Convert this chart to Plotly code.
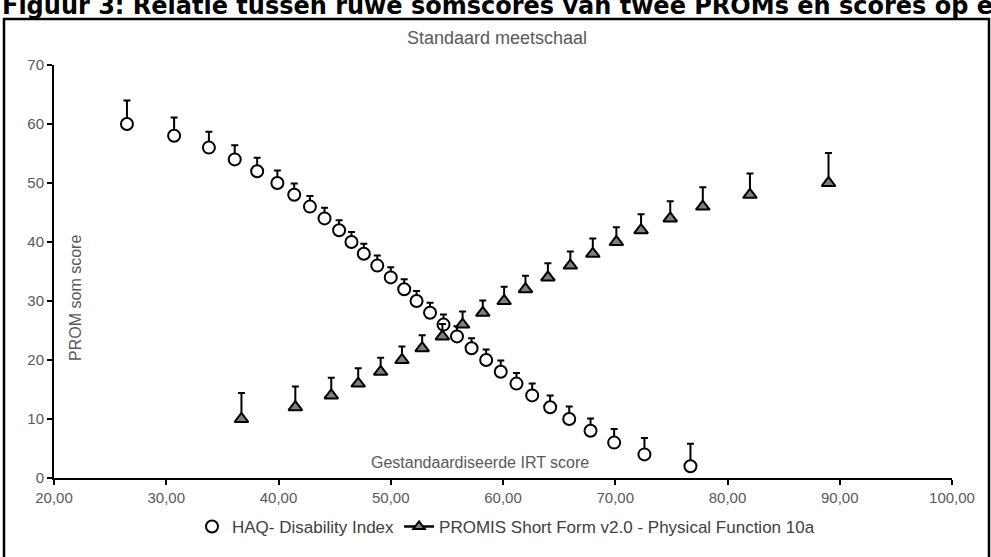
import plotly.graph_objects as go

# ---- data ----
haq_x = [26.5, 30.7, 33.8, 36.1, 38.1, 39.9, 41.4, 42.8, 44.1, 45.4, 46.5, 47.6, 48.8, 50.0, 51.2,
         52.3, 53.5, 54.7, 55.9, 57.2, 58.5, 59.8, 61.2, 62.6, 64.2, 65.9, 67.8, 69.9, 72.6, 76.7]
haq_y = [60, 58, 56, 54, 52, 50, 48, 46, 44, 42, 40, 38, 36, 34, 32,
         30, 28, 26, 24, 22, 20, 18, 16, 14, 12, 10, 8, 6, 4, 2]
haq_err = [4.0, 3.1, 2.7, 2.4, 2.3, 2.1, 1.9, 1.8, 1.8, 1.7, 1.7, 1.7, 1.7, 1.7, 1.7,
           1.7, 1.7, 1.7, 1.7, 1.7, 1.8, 1.9, 1.8, 2.0, 2.0, 2.1, 2.1, 2.3, 2.8, 3.8]

prom_x = [36.7, 41.5, 44.7, 47.1, 49.1, 51.0, 52.8, 54.6, 56.4, 58.2, 60.1,
          62.0, 64.0, 66.0, 68.0, 70.1, 72.3, 74.9, 77.8, 82.0, 89.0]
prom_y = [10, 12, 14, 16, 18, 20, 22, 24, 26, 28, 30,
          32, 34, 36, 38, 40, 42, 44, 46, 48, 50]
prom_err = [4.4, 3.5, 3.0, 2.6, 2.4, 2.3, 2.2, 2.1, 2.2, 2.1, 2.4,
            2.3, 2.4, 2.4, 2.6, 2.5, 2.7, 2.9, 3.3, 3.6, 5.1]

x_ticks = [20, 30, 40, 50, 60, 70, 80, 90, 100]
x_tick_labels = ["20,00", "30,00", "40,00", "50,00", "60,00", "70,00", "80,00", "90,00", "100,00"]
y_ticks = [0, 10, 20, 30, 40, 50, 60, 70]

haq_name = "HAQ- Disability Index"
prom_name = "PROMIS Short Form v2.0 - Physical Function 10a"
chart_title = "Standaard meetschaal"
x_title = "Gestandaardiseerde IRT score"
y_title = "PROM som score"
doc_title = "Figuur 3: Relatie tussen ruwe somscores van twee PROMs en scores op een"

# ---- layout geometry (pixels) ----
W, H = 991, 557
L, R, T, B = 54, 952, 65, 487


def px(xp):
    return (xp - L) / (R - L)


def py(yp):
    return (B - yp) / (B - T)


FONT = "Liberation Sans, Arial, sans-serif"
GRAY = "#595959"

fig = go.Figure()

fig.add_trace(go.Scatter(
    x=haq_x, y=haq_y, mode="markers", name=haq_name,
    marker=dict(symbol="circle", size=12, color="white", line=dict(color="black", width=2)),
    error_y=dict(type="data", symmetric=False, array=haq_err, arrayminus=[0] * len(haq_err),
                 color="black", thickness=2, width=3.5),
    showlegend=True,
))

fig.add_trace(go.Scatter(
    x=prom_x, y=prom_y, mode="markers", name=prom_name,
    marker=dict(symbol="triangle-up", size=12, color="#7f7f7f", line=dict(color="black", width=2)),
    error_y=dict(type="data", symmetric=False, array=prom_err, arrayminus=[0] * len(prom_err),
                 color="black", thickness=2, width=3.5),
    showlegend=False,
))

# legend entry for the PROMIS series (line + triangle symbol)
fig.add_trace(go.Scatter(
    x=[None], y=[None], mode="lines+markers", name=prom_name,
    marker=dict(symbol="triangle-up", size=10, color="#7f7f7f", line=dict(color="black", width=2)),
    line=dict(color="black", width=2.5),
    showlegend=True,
))

fig.update_layout(
    width=W, height=H,
    margin=dict(l=L, r=W - R, t=T, b=H - B, pad=0),
    paper_bgcolor="white", plot_bgcolor="white",
    font=dict(family=FONT, size=15, color=GRAY),
    showlegend=True,
    legend=dict(orientation="h", x=px(506), xanchor="center", y=py(537), yanchor="middle",
                font=dict(family=FONT, size=17, color="#404040"),
                bgcolor="rgba(0,0,0,0)", itemsizing="trace", tracegroupgap=0),
    xaxis=dict(range=[20, 100], tickmode="array", tickvals=x_ticks, ticktext=x_tick_labels,
               showgrid=False, zeroline=False, showline=True, linecolor="black", linewidth=2,
               ticks="outside", ticklen=5, tickwidth=2, tickcolor="black",
               tickfont=dict(family=FONT, size=15, color=GRAY)),
    yaxis=dict(range=[0, 70], tickmode="array", tickvals=y_ticks,
               showgrid=False, zeroline=False, showline=True, linecolor="black", linewidth=2,
               ticks="outside", ticklen=5, tickwidth=2, tickcolor="black",
               tickfont=dict(family=FONT, size=15, color=GRAY)),
)

fig.add_annotation(text=chart_title, xref="paper", yref="paper", x=px(497), y=py(37),
                   showarrow=False, xanchor="center", yanchor="middle",
                   font=dict(family=FONT, size=18, color=GRAY))
fig.add_annotation(text=x_title, xref="paper", yref="paper", x=px(480), y=py(471),
                   showarrow=False, xanchor="center", yanchor="middle",
                   font=dict(family=FONT, size=16, color=GRAY))
fig.add_annotation(text=y_title, xref="paper", yref="paper", x=px(76), y=py(303),
                   showarrow=False, xanchor="center", yanchor="middle", textangle=-90,
                   font=dict(family=FONT, size=16, color=GRAY))
fig.add_annotation(text=doc_title, xref="paper", yref="paper", x=px(0), y=py(5),
                   showarrow=False, xanchor="left", yanchor="middle",
                   font=dict(family="DejaVu Sans, Verdana, sans-serif", size=24, color="black",
                             weight="bold"))

# outer chart border
fig.add_shape(type="rect", xref="paper", yref="paper",
              x0=px(4), x1=px(989), y0=py(575), y1=py(18),
              line=dict(color="black", width=2.5), fillcolor="rgba(0,0,0,0)", layer="below")

fig.write_html("out.html")
